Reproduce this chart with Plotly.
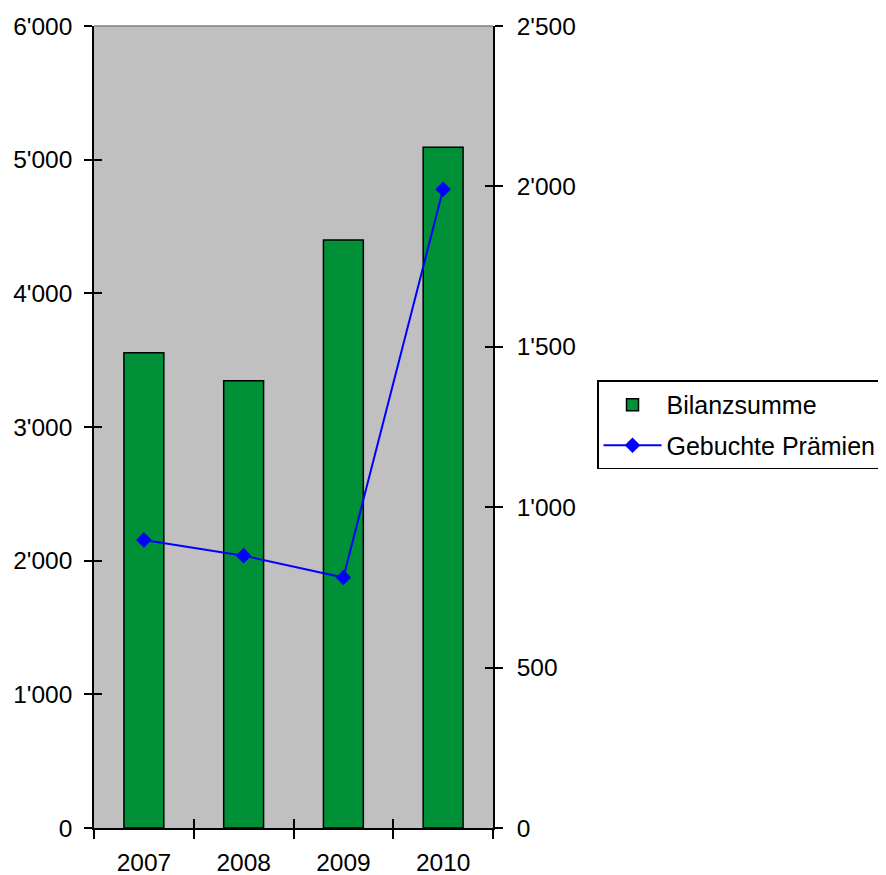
import plotly.graph_objects as go

years = ["2007", "2008", "2009", "2010"]
bilanzsumme = [3556, 3346, 4399, 5092]
praemien = [898, 849, 781, 1991]

left_ticks = [0, 1000, 2000, 3000, 4000, 5000, 6000]
right_ticks = [0, 500, 1000, 1500, 2000, 2500]

FONT = "Liberation Sans, Arial, sans-serif"
GREEN = "#009038"
BLUE = "#0000FF"

fig = go.Figure()
fig.add_trace(go.Bar(
    x=years, y=bilanzsumme, name="Bilanzsumme",
    marker=dict(color=GREEN, line=dict(color="black", width=1.5)),
    xaxis="x", yaxis="y", legendgroup="a",
))
fig.add_trace(go.Scatter(
    x=years, y=praemien, name="Gebuchte Prämien", mode="lines+markers",
    line=dict(color=BLUE, width=2),
    marker=dict(symbol="diamond", size=12, color=BLUE),
    xaxis="x", yaxis="y2", legendgroup="b",
))
# helper traces so that overlay axes (inside halves of crossing ticks) render
fig.add_trace(go.Scatter(x=[years[0]], y=[None], xaxis="x2", yaxis="y3",
                         showlegend=False, hoverinfo="skip", mode="markers"))
fig.add_trace(go.Scatter(x=[years[0]], y=[None], xaxis="x2", yaxis="y4",
                         showlegend=False, hoverinfo="skip", mode="markers"))

tickfont = dict(family=FONT, size=24.5, color="black")
common_x = dict(type="category", categoryorder="array", categoryarray=years,
                range=[-0.5, 3.5], tickson="boundaries", showgrid=False,
                zeroline=False, ticklen=9, tickwidth=1.5, tickcolor="black",
                automargin=False)

fig.update_layout(
    width=878, height=867,
    margin=dict(l=86, r=393, t=18, b=47, autoexpand=False),
    paper_bgcolor="white", plot_bgcolor="#C0C0C0",
    separators=".'",
    bargap=0.6,
    font=dict(family=FONT, size=24.5, color="black"),
    xaxis=dict(**common_x, ticks="outside", showline=True, linecolor="black",
               linewidth=1.5, tickfont=tickfont, anchor="y",
               ticklabelstandoff=12),
    xaxis2=dict(**common_x, ticks="inside", showline=False,
                showticklabels=False, overlaying="x", anchor="y"),
    yaxis=dict(range=[0, 6000], tickvals=left_ticks, tickformat=",d",
               ticks="outside", ticklen=8, tickwidth=1.5, tickcolor="black",
               showline=True, linecolor="black", linewidth=1.5,
               showgrid=False, zeroline=False, tickfont=tickfont,
               ticklabelstandoff=7, automargin=False),
    yaxis3=dict(range=[0, 6000], tickvals=left_ticks, ticks="inside",
                ticklen=8, tickwidth=1.5, tickcolor="black",
                showticklabels=False, showgrid=False, zeroline=False,
                overlaying="y", side="left", anchor="x", automargin=False),
    yaxis2=dict(range=[0, 2500], tickvals=right_ticks, tickformat=",d",
                ticks="outside", ticklen=8, tickwidth=1.5, tickcolor="black",
                showline=True, linecolor="black", linewidth=1.5,
                showgrid=False, zeroline=False, tickfont=tickfont,
                overlaying="y", side="right", anchor="x",
                ticklabelstandoff=9, automargin=False),
    yaxis4=dict(range=[0, 2500], tickvals=right_ticks, ticks="inside",
                ticklen=8, tickwidth=1.5, tickcolor="black",
                showticklabels=False, showgrid=False, zeroline=False,
                overlaying="y", side="right", anchor="x", automargin=False),
    legend=dict(x=1.2607, y=0.5025, xanchor="left", yanchor="middle",
                bordercolor="black", borderwidth=1.5, bgcolor="white",
                font=dict(family=FONT, size=25, color="black"),
                itemwidth=58, tracegroupgap=5),
    showlegend=True,
    shapes=[dict(type="line", xref="paper", yref="paper", x0=0, x1=1,
                 y0=1, y1=1, line=dict(color="#808080", width=1.5))],
)

fig.write_html("out.html")
